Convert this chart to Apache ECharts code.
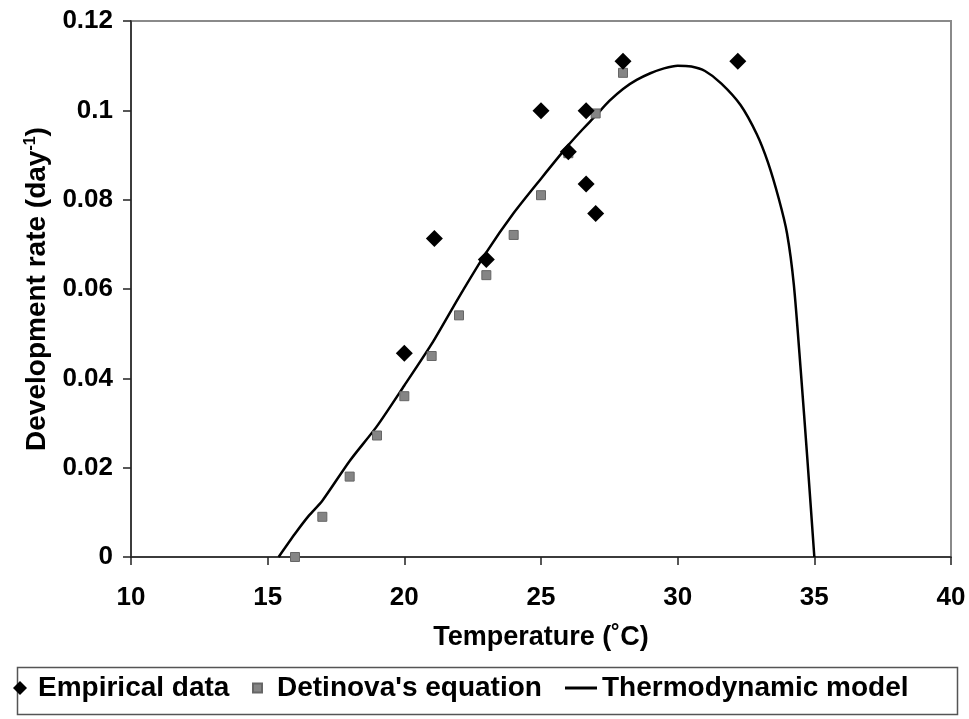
<!DOCTYPE html>
<html>
<head>
<meta charset="utf-8">
<script src="https://cdn.jsdelivr.net/npm/echarts@6/dist/echarts.min.js"></script>
<style>
html,body{margin:0;padding:0;background:#fff;}
#chart{width:969px;height:719px;}
</style>
</head>
<body>
<div id="chart"></div>
<script>
// Empirical data
const empiricalT = [20.0, 21.1, 23.0, 25.0, 26.0, 26.65, 26.65, 27.0, 28.0, 32.2];
const empiricalRate = [0.0456, 0.0713, 0.0666, 0.0999, 0.0907, 0.0999, 0.0835, 0.0769, 0.1110, 0.1110];
// Detinova's equation
const detinovaT = [16, 17, 18, 19, 20, 21, 22, 23, 24, 25, 26, 27, 28];
const detinovaRate = [0.0, 0.0090, 0.0180, 0.0272, 0.0360, 0.0450, 0.0541, 0.0631, 0.0721, 0.0810, 0.0904, 0.0993, 0.1084];
// Thermodynamic model (curve)
const thermoT = [15.4, 16.0, 16.5, 17.0, 18.0, 19.0, 20.0, 21.0, 22.0, 23.0, 24.0, 25.0, 26.0, 26.5, 27.0, 27.5, 28.0, 28.5, 29.0, 29.5, 30.0, 30.5, 31.0, 31.6, 32.3, 32.9, 33.3, 33.7, 34.0, 34.25, 34.5, 34.75, 35.0];
const thermoRate = [0.0, 0.0052, 0.0092, 0.0126, 0.0215, 0.0293, 0.0384, 0.0477, 0.0582, 0.0682, 0.0770, 0.0847, 0.0922, 0.0956, 0.0988, 0.1021, 0.1048, 0.1068, 0.1083, 0.1094, 0.1100, 0.1098, 0.1088, 0.1060, 0.1012, 0.0946, 0.0884, 0.0802, 0.0725, 0.0610, 0.0420, 0.0215, 0.0];

const seriesNames = ['Empirical data', "Detinova's equation", 'Thermodynamic model'];
const xTitle = 'Temperature (\u02DAC)';

const zip = (a, b) => a.map((v, i) => [v, b[i]]);
const FONT = '"Liberation Sans", Arial, sans-serif';
const legendText = {fontFamily: FONT, fontWeight: 'bold', fontSize: 28, color: '#000'};

const chart = echarts.init(document.getElementById('chart'), null, {renderer: 'canvas'});
chart.setOption({
  animation: false,
  backgroundColor: '#ffffff',
  grid: {
    left: 131, right: 18, top: 21, bottom: 162,
    show: true, borderColor: '#8a8a8a', borderWidth: 2, backgroundColor: 'transparent'
  },
  xAxis: {
    type: 'value', min: 10, max: 40, interval: 5,
    name: xTitle, nameLocation: 'middle', nameGap: 67,
    nameTextStyle: {fontFamily: FONT, fontWeight: 'bold', fontSize: 27, color: '#000'},
    axisLine: {show: true, lineStyle: {color: '#222', width: 1.5}},
    axisTick: {show: true, inside: false, length: 8, lineStyle: {color: '#222', width: 1.5}},
    axisLabel: {fontFamily: FONT, fontWeight: 'bold', fontSize: 26, color: '#000', margin: 28},
    splitLine: {show: false}
  },
  yAxis: {
    type: 'value', min: 0, max: 0.12, interval: 0.02,
    name: 'Development rate (day{sup|-1})', nameLocation: 'middle', nameGap: 74, nameRotate: 90,
    nameTextStyle: {fontFamily: FONT, fontWeight: 'bold', fontSize: 28, color: '#000',
      rich: {sup: {fontFamily: FONT, fontWeight: 'bold', fontSize: 16, color: '#000', verticalAlign: 'top', padding: [0,0,14,0]}}},
    axisLine: {show: true, lineStyle: {color: '#222', width: 1.5}},
    axisTick: {show: true, inside: false, length: 8, lineStyle: {color: '#222', width: 1.5}},
    axisLabel: {fontFamily: FONT, fontWeight: 'bold', fontSize: 26, color: '#000', margin: 18},
    splitLine: {show: false}
  },
  graphic: [{
    type: 'rect', left: 15, top: 665, shape: {width: 940, height: 47},
    style: {fill: 'none', stroke: '#555', lineWidth: 1.5}, silent: true
  }],
  legend: [
    {
      left: 13, top: 674, padding: 0, itemWidth: 14, itemHeight: 14,
      textStyle: Object.assign({padding: [0,0,0,6]}, legendText),
      data: [{name: seriesNames[0], icon: 'diamond'}]
    },
    {
      left: 252, top: 674, padding: 0, itemWidth: 9, itemHeight: 9,
      textStyle: Object.assign({padding: [0,0,0,10]}, legendText),
      data: [{name: seriesNames[1], icon: 'rect'}]
    },
    {
      left: 565, top: 674, padding: 0, itemWidth: 32, itemHeight: 3,
      textStyle: Object.assign({padding: [0,0,0,0]}, legendText),
      data: [{name: seriesNames[2], icon: 'path://M0,0 L32,0 L32,3 L0,3 Z', itemStyle: {color: '#000'}}]
    }
  ],
  series: [
    {
      name: seriesNames[2], type: 'line', data: zip(thermoT, thermoRate),
      smooth: 0.25, showSymbol: false, symbol: 'none',
      lineStyle: {color: '#000', width: 2.5}, itemStyle: {color: '#000'}, z: 2
    },
    {
      name: seriesNames[1], type: 'scatter', data: zip(detinovaT, detinovaRate),
      symbol: 'rect', symbolSize: 9,
      itemStyle: {color: '#858585', borderColor: '#666', borderWidth: 1, opacity: 1}, z: 3
    },
    {
      name: seriesNames[0], type: 'scatter', data: zip(empiricalT, empiricalRate),
      symbol: 'diamond', symbolSize: 17,
      itemStyle: {color: '#000', opacity: 1}, z: 4
    }
  ]
});
</script>
</body>
</html>
